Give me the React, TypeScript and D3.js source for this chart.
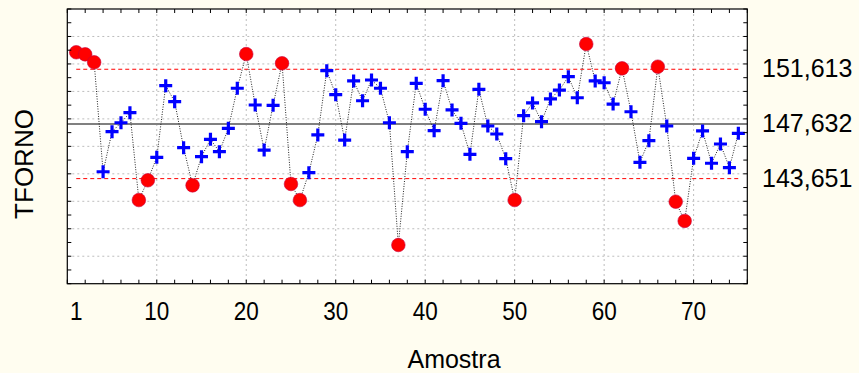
import React from "react";
import * as d3 from "d3";

// Sample index (Amostra) and measured TFORNO values
const samples: number[] = d3.range(1, 76);
const tforno: number[] = [
  152.85, 152.70, 152.12, 144.15, 147.07, 147.72, 148.45, 142.09, 143.53, 145.20,
  150.42, 149.25, 145.90, 143.16, 145.25, 146.51, 145.61, 147.31, 150.23, 152.72,
  149.01, 145.73, 148.99, 152.05, 143.26, 142.09, 144.08, 146.83, 151.51, 149.76,
  146.46, 150.76, 149.32, 150.83, 150.23, 147.72, 138.82, 145.61, 150.59, 148.70,
  147.14, 150.78, 148.65, 147.68, 145.42, 150.15, 147.48, 146.90, 145.10, 142.09,
  148.23, 149.16, 147.80, 149.45, 150.10, 151.07, 149.54, 153.45, 150.76, 150.63,
  149.08, 151.68, 148.52, 144.84, 146.41, 151.80, 147.48, 141.97, 140.57, 145.13,
  147.12, 144.77, 146.17, 144.45, 146.95,
];

// Control limits
const UCL = 151.613;
const CL = 147.632;
const LCL = 143.651;
const limitLabels: { value: number; label: string }[] = [
  { value: UCL, label: "151,613" },
  { value: CL, label: "147,632" },
  { value: LCL, label: "143,651" },
];

const xTickLabels: number[] = [1, 10, 20, 30, 40, 50, 60, 70];
const xGridValues: number[] = [10, 20, 30, 40, 50, 60, 70];
const yGridValues: number[] = d3.range(138, 156, 2);

const W = 859;
const H = 373;
const plot = { left: 67.3, right: 747.3, top: 9, bottom: 283.7 };
const FONT = "'Liberation Sans', Arial, sans-serif";

export default function App() {
  const x = d3.scaleLinear().domain([0, 76]).range([plot.left, plot.right]);
  const y = d3.scaleLinear().domain([136, 156]).range([plot.bottom, plot.top]);

  const points = samples.map((s, i) => ({ s, v: tforno[i] }));
  const line = d3
    .line<{ s: number; v: number }>()
    .x((d) => x(d.s))
    .y((d) => y(d.v));

  const xTicks = d3.range(0, 77, 2);
  const yTicks = d3.range(136, 157, 1);
  const tickLen = 4;
  const arm = 6.5;

  return (
    <svg
      width={W}
      height={H}
      style={{ position: "absolute", left: 0, top: 0, display: "block" }}
    >
      <rect x={0} y={0} width={W} height={H} fill="#FFFDF0" />
      <rect
        x={plot.left}
        y={plot.top}
        width={plot.right - plot.left}
        height={plot.bottom - plot.top}
        fill="#ffffff"
      />

      {/* grid */}
      {yGridValues.map((v) => (
        <line
          key={"gy" + v}
          x1={plot.left}
          x2={plot.right}
          y1={y(v)}
          y2={y(v)}
          stroke="#bdbdbd"
          strokeWidth={1}
          strokeDasharray="2,3"
        />
      ))}
      {xGridValues.map((v) => (
        <line
          key={"gx" + v}
          x1={x(v)}
          x2={x(v)}
          y1={plot.top}
          y2={plot.bottom}
          stroke="#bdbdbd"
          strokeWidth={1}
          strokeDasharray="2,3"
        />
      ))}

      {/* center line and control limits */}
      <line
        x1={plot.left}
        x2={plot.right}
        y1={y(CL)}
        y2={y(CL)}
        stroke="#808080"
        strokeWidth={2}
      />
      {[UCL, LCL].map((v) => (
        <line
          key={"lim" + v}
          x1={x(samples[0])}
          x2={x(samples[samples.length - 1])}
          y1={y(v)}
          y2={y(v)}
          stroke="#ff0000"
          strokeWidth={1}
          strokeDasharray="4,3"
        />
      ))}

      {/* connecting line */}
      <path
        d={line(points) || ""}
        fill="none"
        stroke="#222"
        strokeWidth={1}
        strokeDasharray="1,1.5"
      />

      {/* markers: red circles outside the limits, blue crosses inside */}
      {points.map((p) => {
        const cx = x(p.s);
        const cy = y(p.v);
        const out = p.v > UCL || p.v < LCL;
        return out ? (
          <circle
            key={"m" + p.s}
            cx={cx}
            cy={cy}
            r={6.8}
            fill="#ff0000"
            stroke="#c8003c"
            strokeWidth={0.6}
          />
        ) : (
          <path
            key={"m" + p.s}
            d={`M${cx - arm},${cy}H${cx + arm}M${cx},${cy - arm}V${cy + arm}`}
            stroke="#0000ff"
            strokeWidth={3.2}
            fill="none"
          />
        );
      })}

      {/* frame and inward ticks */}
      <rect
        x={plot.left}
        y={plot.top}
        width={plot.right - plot.left}
        height={plot.bottom - plot.top}
        fill="none"
        stroke="#000"
        strokeWidth={1.2}
      />
      {xTicks.map((t) => (
        <g key={"xt" + t}>
          <line
            x1={x(t)}
            x2={x(t)}
            y1={plot.bottom}
            y2={plot.bottom - tickLen}
            stroke="#000"
          />
          <line
            x1={x(t)}
            x2={x(t)}
            y1={plot.top}
            y2={plot.top + tickLen}
            stroke="#000"
          />
        </g>
      ))}
      {yTicks.map((t) => (
        <g key={"yt" + t}>
          <line
            x1={plot.left}
            x2={plot.left + tickLen}
            y1={y(t)}
            y2={y(t)}
            stroke="#000"
          />
          <line
            x1={plot.right}
            x2={plot.right - tickLen}
            y1={y(t)}
            y2={y(t)}
            stroke="#000"
          />
        </g>
      ))}

      {/* x tick labels */}
      {xTickLabels.map((t) => (
        <text
          key={"xl" + t}
          x={x(t)}
          y={320}
          textAnchor="middle"
          fontFamily={FONT}
          fontSize={25}
          fill="#000"
          transform={`translate(${x(t)},0) scale(0.9,1) translate(${-x(t)},0)`}
        >
          {t}
        </text>
      ))}

      {/* right-side limit labels */}
      {limitLabels.map((l) => (
        <text
          key={"ll" + l.label}
          x={762}
          y={y(l.value) + 8}
          fontFamily={FONT}
          fontSize={25}
          fill="#000"
        >
          {l.label}
        </text>
      ))}

      {/* axis titles */}
      <text
        x={454}
        y={367.5}
        textAnchor="middle"
        fontFamily={FONT}
        fontSize={25}
        fill="#000"
      >
        Amostra
      </text>
      <text
        transform={`translate(33,164) rotate(-90)`}
        textAnchor="middle"
        fontFamily={FONT}
        fontSize={26}
        fill="#000"
      >
        TFORNO
      </text>
    </svg>
  );
}
